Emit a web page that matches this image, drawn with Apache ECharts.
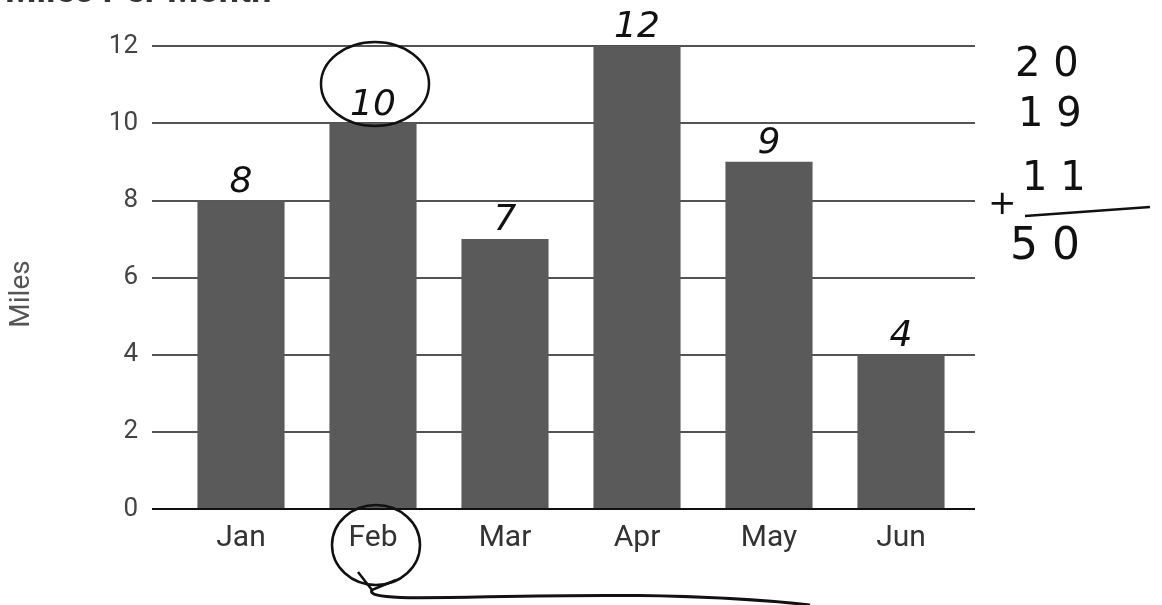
<!DOCTYPE html>
<html lang="en">
<head>
	<meta charset="UTF-8">
	<title>Miles Per Month</title>
	<script src="https://cdn.jsdelivr.net/npm/echarts@6/dist/echarts.min.js"></script>
	<style>
		html,body{margin:0;padding:0;background:#fff;}
		#main{width:1162px;height:605px;}
	</style>
</head>
<body>
	<div id="main"></div>
	<script>
		// data
		var months = ['Jan', 'Feb', 'Mar', 'Apr', 'May', 'Jun'];
		var miles = [8, 10, 7, 12, 9, 4];
		var handNotes = ['8', '10', '7', '12', '9', '4'];
		var sumLines = ['2 0', '1 9', '1 1', '5 0'];

		var font = 'Roboto, "Liberation Sans", sans-serif';
		var hand = '"DejaVu Sans", sans-serif';

		var myChart = echarts.init(document.getElementById('main'));
		var option = {
			animation: false,
			backgroundColor: '#fff',
			title: {
				text: 'Miles Per Month',
				left: 0,
				top: -30,
				textStyle: { fontFamily: font, fontSize: 36, fontWeight: 'bold', color: '#333' }
			},
			grid: [
				{ left: 152, right: 187, top: 46, bottom: 96 },
				{ left: 175, right: 195, top: 46, bottom: 96 }
			],
			xAxis: [
				{ type: 'category', gridIndex: 0, data: months, show: false },
				{
					type: 'category', gridIndex: 1, data: months,
					axisLine: { show: false },
					axisTick: { show: false },
					axisLabel: { color: '#333', fontSize: 30, fontFamily: font, margin: 14 }
				}
			],
			yAxis: [
				{
					type: 'value', gridIndex: 0, min: 0, max: 12, interval: 2,
					axisLine: { show: false },
					axisTick: { show: false },
					axisLabel: { color: '#444', fontSize: 26, fontFamily: font, margin: 14 },
					splitLine: { lineStyle: { color: '#1a1a1a', width: 1.5 } }
				},
				{ type: 'value', gridIndex: 1, min: 0, max: 12, interval: 2, show: false, splitLine: { show: false } }
			],
			series: [
				{
					type: 'bar',
					xAxisIndex: 1,
					yAxisIndex: 1,
					data: miles,
					barWidth: '66%',
					itemStyle: { color: '#5a5a5a' },
					label: {
						show: true,
						position: 'top',
						distance: 0,
						formatter: function (p) { return handNotes[p.dataIndex]; },
						color: '#111',
						fontSize: 36,
						fontStyle: 'italic',
						fontFamily: hand
					},
					z: 3
				},
				{
					// darker baseline at zero
					type: 'line',
					xAxisIndex: 0,
					yAxisIndex: 0,
					data: [],
					markLine: {
						silent: true,
						symbol: 'none',
						label: { show: false },
						lineStyle: { color: '#111', width: 2, type: 'solid' },
						data: [{ yAxis: 0 }]
					}
				}
			],
			graphic: [
				// axis title
				{ type: 'text', x: 22, y: 294, rotation: Math.PI / 2, style: { text: 'Miles', fontSize: 28, fontFamily: font, fill: '#555', align: 'center', verticalAlign: 'middle' } },
				// hand sums on the right
				{ type: 'text', left: 1015, top: 46, style: { text: sumLines[0], fontSize: 40, fontFamily: hand, fill: '#111' } },
				{ type: 'text', left: 1018, top: 96, style: { text: sumLines[1], fontSize: 40, fontFamily: hand, fill: '#111' } },
				{ type: 'text', left: 988, top: 188, style: { text: '+', fontSize: 34, fontFamily: hand, fill: '#111' } },
				{ type: 'text', left: 1022, top: 160, style: { text: sumLines[2], fontSize: 40, fontFamily: hand, fill: '#111' } },
				{ type: 'line', shape: { x1: 1025, y1: 216, x2: 1150, y2: 207 }, style: { stroke: '#111', lineWidth: 2.5 } },
				{ type: 'text', left: 1010, top: 226, style: { text: sumLines[3], fontSize: 44, fontFamily: hand, fill: '#111' } },
				// circles
				{ type: 'ellipse', shape: { cx: 375, cy: 84, rx: 54, ry: 42 }, style: { stroke: '#111', fill: 'none', lineWidth: 2.5 }, z: 10 },
				{ type: 'ellipse', shape: { cx: 376, cy: 545, rx: 44, ry: 40 }, style: { stroke: '#111', fill: 'none', lineWidth: 2.5 }, z: 10 },
				// arrow
				{ type: 'polyline', shape: { points: [[358, 572], [372, 590], [396, 580]] }, style: { stroke: '#111', fill: 'none', lineWidth: 2.5 } },
				{ type: 'bezierCurve', shape: { x1: 372, y1: 590, cpx1: 360, cpy1: 610, x2: 810, y2: 605, cpx2: 600, cpy2: 582 }, style: { stroke: '#111', fill: 'none', lineWidth: 3 } }
			]
		};
		myChart.setOption(option);
	</script>
</body>
</html>
